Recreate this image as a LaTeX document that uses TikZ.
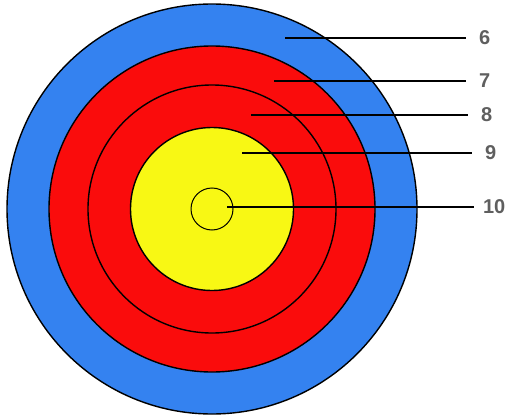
\documentclass[tikz,border=0pt]{standalone}
\usepackage{fontspec}
\setmainfont{Liberation Sans}
\definecolor{ringblue}{RGB}{52,130,240}
\definecolor{ringred}{RGB}{250,12,12}
\definecolor{ringyellow}{RGB}{248,248,20}
\definecolor{labelgray}{RGB}{95,95,95}

\begin{document}
\begin{tikzpicture}[
  x=1pt,y=1pt,
  ring/.style={circle,draw,line width=1.4pt,inner sep=0pt,outer sep=0pt},
  score/.style={anchor=west,inner xsep=13pt,inner ysep=0pt,outer sep=0pt,
                text=labelgray,font=\fontsize{20}{24}\selectfont\bfseries},
  lead/.style={line width=1.8pt},
]
\useasboundingbox (0,0) rectangle (508,416);

% the target, outside in
\node[ring,fill=ringblue,minimum size=410pt]   (r6)  at (212,207) {};
\node[ring,fill=ringred,minimum size=326pt]    (r7)  at (212,207) {};
\node[ring,fill=ringred,minimum size=248pt]    (r8)  at (212,207) {};
\node[ring,fill=ringyellow,minimum size=163pt] (r9)  at (212,207) {};
\node[ring,line width=1pt,minimum size=42pt]   (r10) at (212,207) {};

% where each leader starts
\coordinate (p6)  at (285,378);
\coordinate (p7)  at (274,335);
\coordinate (p8)  at (251,301);
\coordinate (p9)  at (242,263);
\coordinate (p10) at (227,209);

\node[score] (s6)  at (466,378) {6};
\node[score] (s7)  at (466,335) {7};
\node[score] (s8)  at (468,301) {8};
\node[score] (s9)  at (472,263) {9};
\node[score,inner xsep=9pt] (s10) at (474,209) {10};

\foreach \k in {6,7,8,9,10}
  \draw[lead] (p\k) -- (s\k.west);

\end{tikzpicture}
\end{document}
